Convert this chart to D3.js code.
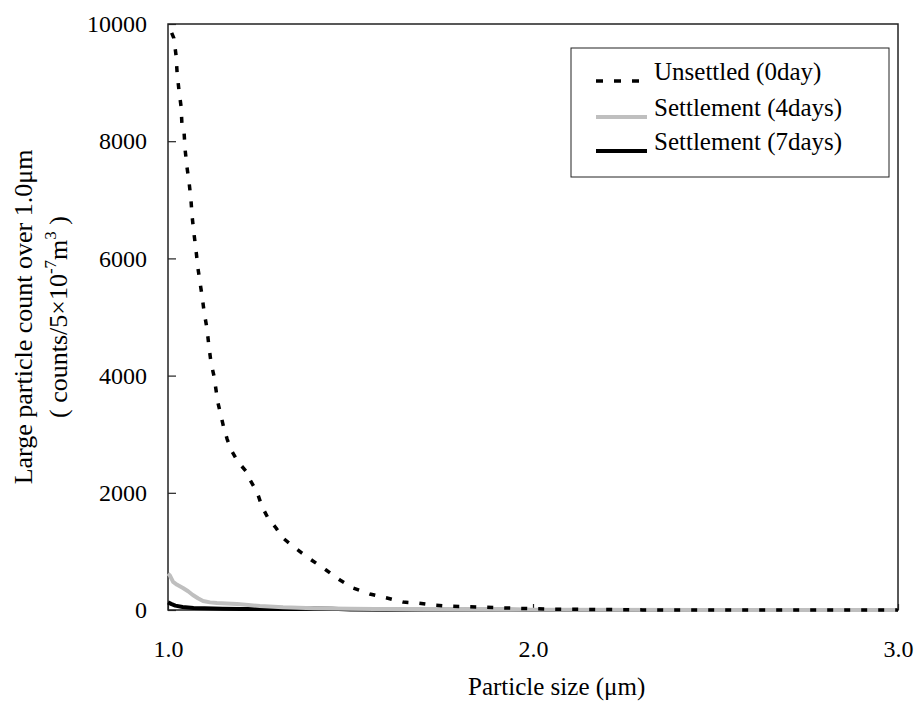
<!DOCTYPE html>
<html>
<head>
<meta charset="utf-8">
<script src="https://cdn.jsdelivr.net/npm/d3@7"></script>
<style>
  html, body { margin: 0; padding: 0; background: #fff; }
</style>
</head>
<body>
<svg id="chart" width="918" height="702"></svg>
<script>
// Particle size (µm) and counts for each sample
const sizeUnsettled = [1.010, 1.016, 1.022, 1.025, 1.030, 1.036, 1.038, 1.044, 1.047, 1.052, 1.058, 1.063, 1.066, 1.071, 1.077, 1.082, 1.088, 1.093, 1.099, 1.107, 1.112, 1.118, 1.126, 1.132, 1.137, 1.148, 1.153, 1.162, 1.173, 1.192, 1.216, 1.225, 1.244, 1.258, 1.274, 1.296, 1.315, 1.342, 1.367, 1.397, 1.433, 1.471, 1.507, 1.553, 1.600, 1.644, 1.682, 1.726, 1.764, 1.85, 1.95, 2.05, 2.20, 2.30, 2.60, 3.00];
const countUnsettled = [9850, 9758, 9468, 9161, 8871, 8581, 8308, 8155, 7848, 7558, 7285, 6995, 6722, 6432, 6125, 5835, 5579, 5374, 5084, 4794, 4504, 4214, 3992, 3736, 3531, 3241, 3105, 2917, 2730, 2525, 2354, 2218, 2013, 1757, 1570, 1399, 1228, 1092, 972, 836, 682, 512, 375, 273, 205, 136, 119, 85, 68, 50, 30, 15, 8, 2, 0, 0];

const size4days = [1.000, 1.005, 1.014, 1.025, 1.041, 1.055, 1.068, 1.082, 1.096, 1.115, 1.134, 1.160, 1.189, 1.220, 1.252, 1.315, 1.40, 1.50, 1.70, 2.00, 2.50, 3.00];
const count4days = [620, 590, 480, 430, 375, 320, 256, 200, 154, 130, 119, 110, 102, 85, 68, 45, 30, 20, 10, 5, 2, 0];

const size7days = [1.000, 1.010, 1.020, 1.040, 1.070, 1.100, 1.150, 1.200, 1.300, 1.350, 1.400, 1.450, 1.500, 1.600, 1.800, 2.000, 2.500, 3.000];
const count7days = [130, 100, 75, 50, 35, 28, 22, 18, 15, 18, 25, 20, 10, 5, 3, 2, 1, 0];

const xTicks = [1.0, 2.0, 3.0];
const yTicks = [0, 2000, 4000, 6000, 8000, 10000];

const seriesNames = ["Unsettled (0day)", "Settlement (4days)", "Settlement (7days)"];

const FONT = "'Liberation Serif', 'Times New Roman', 'DejaVu Serif', serif";

const margin = { left: 168, top: 24 };
const plotW = 898 - margin.left;
const plotH = 610 - margin.top;

const svg = d3.select("#chart");
const g = svg.append("g").attr("transform", `translate(${margin.left},${margin.top})`);

const x = d3.scaleLinear().domain([1.0, 3.0]).range([0, plotW]);
const y = d3.scaleLinear().domain([0, 10000]).range([plotH, 0]);

const line = d3.line().x(d => x(d[0])).y(d => y(d[1]));

const series = [
  { name: seriesNames[0], data: d3.zip(sizeUnsettled, countUnsettled), color: "#000", width: 3.5, dash: "6,11", legendDash: "7,11" },
  { name: seriesNames[1], data: d3.zip(size4days, count4days), color: "#bfbfbf", width: 4, dash: null },
  { name: seriesNames[2], data: d3.zip(size7days, count7days), color: "#000", width: 4, dash: null }
];

// Frame
g.append("rect")
  .attr("x", 0).attr("y", 0).attr("width", plotW).attr("height", plotH)
  .attr("fill", "none").attr("stroke", "#222").attr("stroke-width", 1.5);

// Y axis: ticks point inward
const yAxis = d3.axisLeft(y).tickValues(yTicks).tickSize(-8).tickPadding(21).tickFormat(d3.format("d"));
const yg = g.append("g").call(yAxis);
yg.select(".domain").remove();
yg.selectAll(".tick line").attr("stroke", "#222").attr("stroke-width", 1.2);
yg.selectAll(".tick text").style("font-family", FONT).style("font-size", "24px").attr("fill", "#000");

// X axis: ticks point inward
const xAxis = d3.axisBottom(x).tickValues(xTicks).tickSize(-6).tickPadding(30).tickFormat(d3.format(".1f"));
const xg = g.append("g").attr("transform", `translate(0,${plotH})`).call(xAxis);
xg.select(".domain").remove();
xg.selectAll(".tick line").attr("stroke", "#222").attr("stroke-width", 1.2);
xg.selectAll(".tick text").style("font-family", FONT).style("font-size", "24px").attr("fill", "#000");

// Series
series.slice().reverse().forEach(s => {
  g.append("path")
    .datum(s.data)
    .attr("d", line)
    .attr("fill", "none")
    .attr("stroke", s.color)
    .attr("stroke-width", s.width)
    .attr("stroke-dasharray", s.dash)
    .attr("stroke-linejoin", "round");
});

// Legend
const lg = svg.append("g");
lg.append("rect")
  .attr("x", 571).attr("y", 48).attr("width", 318).attr("height", 129)
  .attr("fill", "#fff").attr("stroke", "#222").attr("stroke-width", 1);
const rowY = [81, 117, 151];
series.forEach((s, i) => {
  lg.append("line")
    .attr("x1", 596).attr("x2", 647).attr("y1", rowY[i]).attr("y2", rowY[i])
    .attr("stroke", s.color).attr("stroke-width", s.width)
    .attr("stroke-dasharray", s.legendDash || null);
  lg.append("text")
    .attr("x", 654).attr("y", rowY[i] - 1)
    .style("font-family", FONT).style("font-size", "25px")
    .text(s.name);
});

// Axis titles
svg.append("text")
  .attr("x", 468).attr("y", 695)
  .style("font-family", FONT).style("font-size", "25px")
  .text("Particle size (μm)");

const yt = svg.append("g").attr("transform", "translate(32,317) rotate(-90)");
yt.append("text")
  .attr("text-anchor", "middle")
  .style("font-family", FONT).style("font-size", "26px")
  .text("Large particle count over 1.0μm");
const yt2 = yt.append("text")
  .attr("y", 35).attr("text-anchor", "middle")
  .style("font-family", FONT).style("font-size", "26px");
yt2.append("tspan").text("( counts/5×10");
yt2.append("tspan").attr("dy", -11).style("font-size", "17px").text("-7");
yt2.append("tspan").attr("dy", 11).text("m");
yt2.append("tspan").attr("dy", -11).style("font-size", "17px").text("3");
yt2.append("tspan").attr("dy", 11).text(" )");
</script>
</body>
</html>
